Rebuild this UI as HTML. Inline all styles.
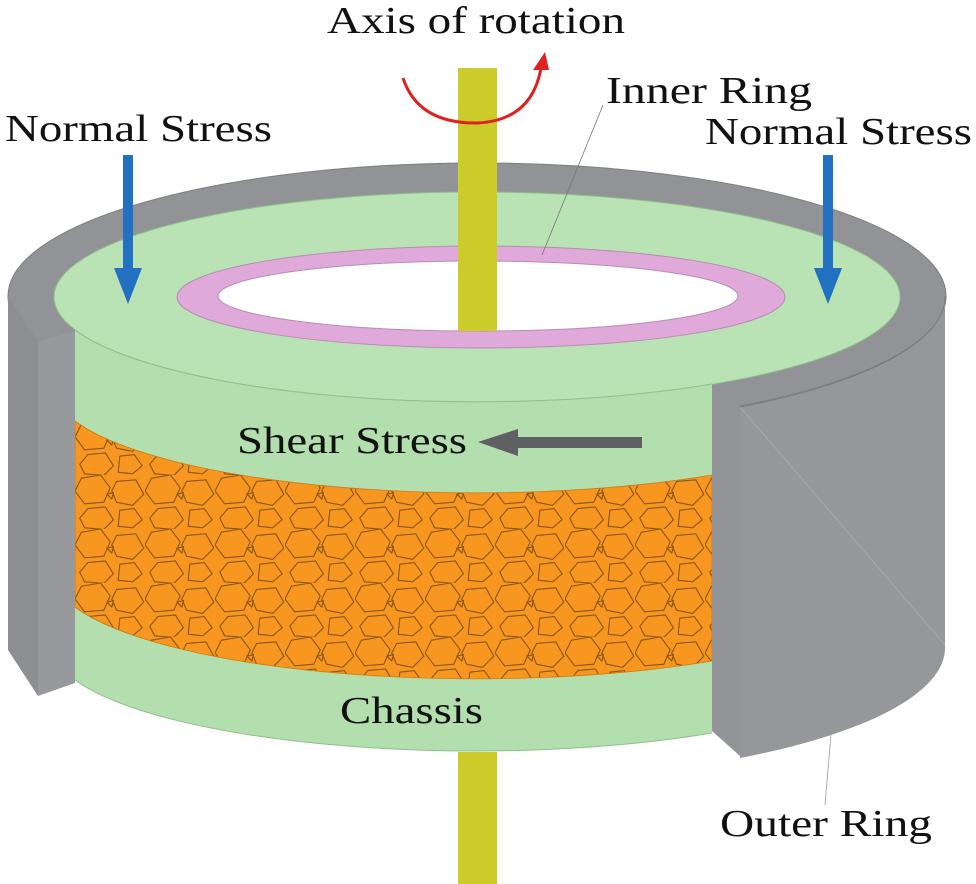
<!DOCTYPE html>
<html><head><meta charset="utf-8"><style>
html,body{margin:0;padding:0;background:#fff;}
svg{display:block;}
text{font-family:"Liberation Serif","Times New Roman",serif;fill:#111;}
</style></head><body>
<svg width="976" height="884" viewBox="0 0 976 884" xmlns="http://www.w3.org/2000/svg">
<defs>
<pattern id="cells" width="70" height="54" patternUnits="userSpaceOnUse" patternTransform="translate(75,421)">
<rect width="70" height="54" fill="#f7971f"/>
<g fill="none" stroke="#8a5518" stroke-width="0.7" transform="scale(1.6)">
<polygon points="4,2 16,0 22,8 18,17 6,18 0,10"/>
<polygon points="26,4 38,3 43,12 36,19 26,17 23,10"/>
<polygon points="8,21 19,20 24,28 18,34 6,33 3,27"/>
<polygon points="28,22 37,21 42,28 36,33 27,32"/>
<polygon points="20,12 24,11 23,15"/>
</g>
</pattern>
</defs>

<ellipse cx="477" cy="296" rx="469" ry="133" fill="#929397" stroke="#7c7d80" stroke-width="1"/>
<ellipse cx="477" cy="297" rx="423" ry="105" fill="#bae3b5" stroke="#8fbf8a" stroke-width="1"/>
<ellipse cx="481" cy="297" rx="304" ry="51" fill="#dfaad9" stroke="#b98ab4" stroke-width="1"/>
<ellipse cx="478" cy="296" rx="260" ry="35" fill="#fff" stroke="#b98ab4" stroke-width="1"/>
<rect x="458" y="68" width="39" height="263" fill="#cbcb2a"/>

<path d="M75,330 A423,105 0 0 0 712,384 L712,733 A423,105 0 0 1 75,680 Z" fill="#b3deae"/>
<path d="M75,330 A423,105 0 0 0 712,384" fill="none" stroke="#8fbf8a" stroke-width="1"/>
<path d="M75,421 A423,105 0 0 0 712,475 L712,661 A423,105 0 0 1 75,607 Z" fill="url(#cells)" stroke="#d07a10" stroke-width="0.8"/>
<path d="M75,680 A423,105 0 0 0 712,733" fill="none" stroke="#8fbf8a" stroke-width="1"/>

<polygon points="8,296 38,342 38,696 8,650" fill="#8d8e92"/>
<polygon points="38,342 75,331 75,683 38,696" fill="#98999d"/>
<polygon points="712,384 740,407 740,756 712,731" fill="#939498"/>
<path d="M740,407 A469,133 0 0 0 945,296 L945,648 A469,133 0 0 1 740,758 Z" fill="#96979b"/>
<line x1="740" y1="407" x2="945" y2="645" stroke="#aaabae" stroke-width="0.8"/>
<path d="M740,407 A469,133 0 0 0 945,296" fill="none" stroke="#7a7b7e" stroke-width="1"/>

<rect x="458" y="752" width="39" height="132" fill="#cbcb2a"/>

<rect x="123" y="155" width="10" height="115" fill="#2271c0"/>
<polygon points="114,268 142,268 128,304" fill="#2271c0"/>
<rect x="823" y="155" width="10" height="115" fill="#2271c0"/>
<polygon points="814,268 842,268 828,304" fill="#2271c0"/>

<rect x="515" y="437" width="127" height="11" fill="#5f6064"/>
<polygon points="478,442 518,429 518,456" fill="#5f6064"/>

<path d="M403,78 Q418,124 478,123 Q532,120 541,68" fill="none" stroke="#e0221e" stroke-width="3"/>
<polygon points="533,70 549,70 545,52" fill="#e0221e"/>

<line x1="603" y1="105" x2="542" y2="255" stroke="#777" stroke-width="0.8"/>
<line x1="825" y1="805" x2="838" y2="652" stroke="#999" stroke-width="0.8"/>

<text x="327" y="33" font-size="38" textLength="298" lengthAdjust="spacingAndGlyphs">Axis of rotation</text>
<text x="606" y="103" font-size="38" textLength="206" lengthAdjust="spacingAndGlyphs">Inner Ring</text>
<text x="5" y="141" font-size="38" textLength="267" lengthAdjust="spacingAndGlyphs">Normal Stress</text>
<text x="705" y="144" font-size="38" textLength="267" lengthAdjust="spacingAndGlyphs">Normal Stress</text>
<text x="237" y="453" font-size="38" textLength="230" lengthAdjust="spacingAndGlyphs">Shear Stress</text>
<text x="340" y="723" font-size="38" textLength="143" lengthAdjust="spacingAndGlyphs">Chassis</text>
<text x="720" y="836" font-size="38" textLength="212" lengthAdjust="spacingAndGlyphs">Outer Ring</text>
</svg>
</body></html>
